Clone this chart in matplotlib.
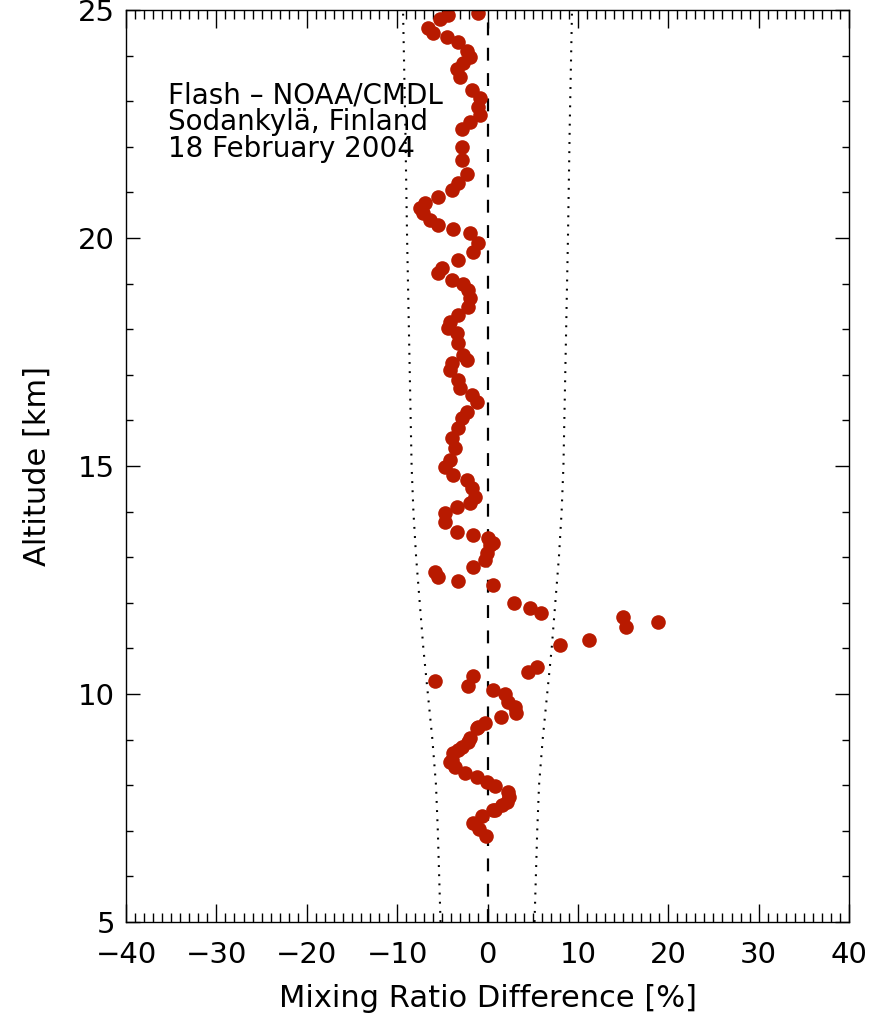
import matplotlib
matplotlib.use("Agg")
import matplotlib.pyplot as plt
import numpy as np
from matplotlib.ticker import MultipleLocator

# difference profile (percent) vs altitude (km)
diff = [3.8, -1.05, -4.4, -5.25, -6.6, -6.0, -4.5, -3.3, -2.3, -1.9, -2.7, -3.4, -3.0,
        -1.7, -0.8, -1.05, -0.8, -1.9, -2.8, -2.8, -2.8, -2.3, -3.3,
        -3.9, -5.5, -6.9, -7.5, -7.1, -6.4, -5.5, -3.8, -1.9, -1.05, -1.6, -3.3, -5.0, -5.5,
        -3.9, -2.7, -2.2, -1.9, -2.2, -3.3, -4.1, -4.4, -3.4, -3.3, -2.7, -2.3, -3.9,
        -4.1, -3.3, -3.0, -1.7, -1.2, -2.3, -2.8, -3.3, -3.9, -3.6, -4.1, -4.7, -3.8,
        -2.3, -1.7, -1.4, -1.9, -3.4, -4.7, -4.7, -3.4, -1.6, 0.05, 0.6,
        0.3, -0.05, -0.3, -1.6, -5.8, -5.5, -3.3, 0.6,
        2.9, 4.7, 5.9, 15.0, 18.9, 15.3, 11.2, 8.0, 5.5, 4.5,
        -1.6, -5.8, -2.2, 0.6, 1.9, 2.3, 3.0, 3.2, 1.5,
        -0.3, -1.05, -1.2, -1.9, -2.2, -2.8, -3.3, -3.8, -3.9, -4.1, -3.6, -2.5, -1.2,
        -0.05, 0.8, 2.3, 2.4, 2.2, 1.6, 0.8, 0.6, -0.6, -1.6, -0.9, -0.2]
alt = [25.15, 24.93, 24.9, 24.8, 24.6, 24.5, 24.4, 24.3, 24.1, 23.97, 23.84, 23.7, 23.53,
       23.25, 23.07, 22.87, 22.7, 22.55, 22.4, 22.0, 21.7, 21.4, 21.2,
       21.05, 20.9, 20.77, 20.66, 20.55, 20.4, 20.28, 20.2, 20.1, 19.9, 19.7, 19.52, 19.34, 19.23,
       19.08, 19.0, 18.86, 18.68, 18.49, 18.31, 18.16, 18.03, 17.92, 17.7, 17.43, 17.33, 17.26,
       17.1, 16.89, 16.71, 16.56, 16.4, 16.18, 16.05, 15.83, 15.61, 15.39, 15.13, 14.98, 14.8,
       14.69, 14.52, 14.32, 14.19, 14.1, 13.97, 13.77, 13.55, 13.49, 13.42, 13.31,
       13.27, 13.09, 12.94, 12.79, 12.68, 12.57, 12.48, 12.39,
       11.99, 11.89, 11.78, 11.69, 11.58, 11.47, 11.18, 11.07, 10.59, 10.48,
       10.4, 10.28, 10.18, 10.09, 10.0, 9.82, 9.71, 9.58, 9.5,
       9.36, 9.28, 9.25, 9.04, 8.95, 8.84, 8.77, 8.7, 8.55, 8.5, 8.4, 8.27, 8.18,
       8.07, 7.98, 7.85, 7.74, 7.63, 7.57, 7.46, 7.46, 7.32, 7.17, 7.04, 6.89]

# dotted envelope
env_alt = [5, 6, 7, 8, 9, 10, 11, 12, 13, 14, 15, 17.5, 20, 22.5, 25]
env_val = [5.2, 5.35, 5.5, 5.7, 6.1, 6.6, 7.1, 7.5, 7.9, 8.2, 8.4, 8.65, 8.9, 9.1, 9.35]

fig = plt.figure(figsize=(8.8, 10.21), dpi=100)
ax = fig.add_axes([0.1432, 0.0970, 0.8216, 0.8932])

ax.plot([0, 0], [5, 25], color='black', linestyle=(0, (5.8, 5.6)), linewidth=1.6)
ax.plot(-np.array(env_val), env_alt, color='black', linestyle=(0, (0.9, 3.5)), linewidth=1.5)
ax.plot(env_val, env_alt, color='black', linestyle=(0, (0.9, 3.5)), linewidth=1.5)
ax.plot(diff, alt, 'o', color='#b81a00', markersize=10.5, markeredgewidth=0)

ax.set_xlim(-40, 40)
ax.set_ylim(5, 25)
ax.xaxis.set_major_locator(MultipleLocator(10))
ax.xaxis.set_minor_locator(MultipleLocator(1))
ax.yaxis.set_major_locator(MultipleLocator(5))
ax.yaxis.set_minor_locator(MultipleLocator(1))
ax.tick_params(axis='both', which='both', direction='in', top=True, right=True,
               labelsize=21, width=1.0)
ax.tick_params(axis='x', which='major', length=13, pad=14)
ax.tick_params(axis='x', which='minor', length=6.5)
ax.tick_params(axis='y', which='major', length=10, pad=8)
ax.tick_params(axis='y', which='minor', length=5)
for s in ax.spines.values():
    s.set_linewidth(1.0)

ax.set_xlabel('Mixing Ratio Difference [%]', fontsize=22)
ax.set_ylabel('Altitude [km]', fontsize=22)
ax.xaxis.set_label_coords(0.5, -0.068)
ax.yaxis.set_label_coords(-0.103, 0.5)

ax.text(-35.3, 23.13, 'Flash \u2013 NOAA/CMDL', fontsize=20, va='center')
ax.text(-35.3, 22.54, 'Sodankylä, Finland', fontsize=20, va='center')
ax.text(-35.3, 21.95, '18 February 2004', fontsize=20, va='center')

fig.savefig('out.png', dpi=100)
